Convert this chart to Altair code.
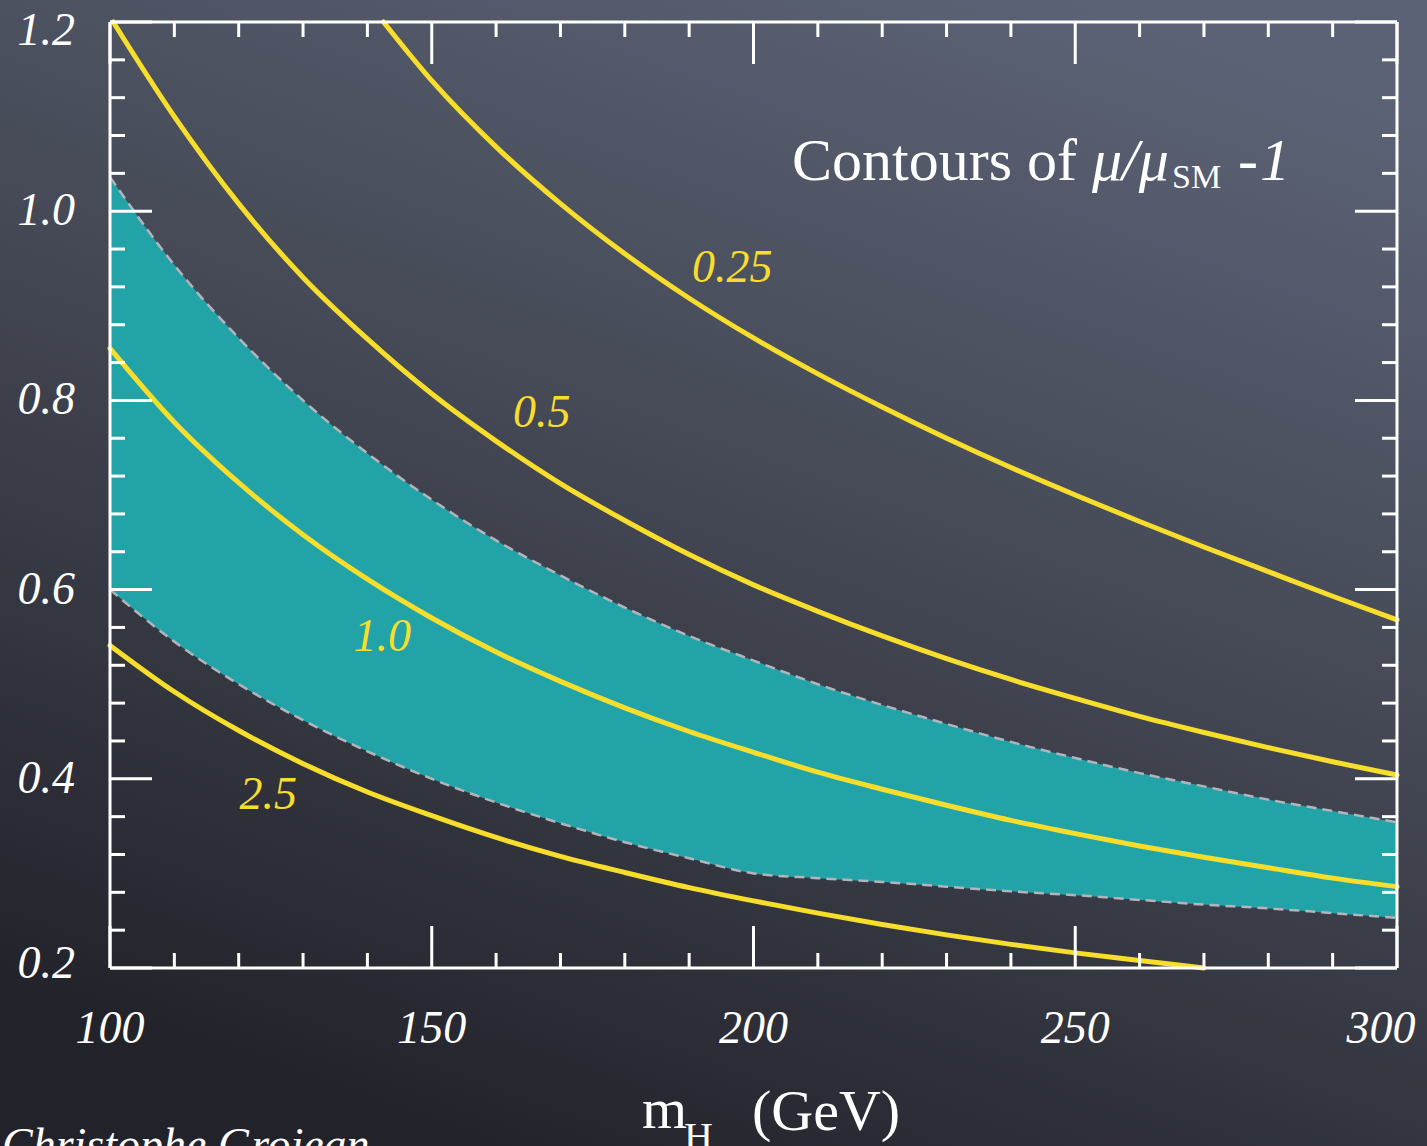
import altair as alt
import pandas as pd

# ---------------- data ----------------
x_grid = [100, 110, 120, 130, 140, 150, 160, 170, 180, 190, 200,
          210, 220, 230, 240, 250, 260, 270, 280, 290, 300]
band_upper = [1.036, 0.943, 0.866, 0.800, 0.744, 0.695, 0.652, 0.615, 0.581, 0.551, 0.525,
              0.500, 0.478, 0.458, 0.439, 0.422, 0.406, 0.392, 0.378, 0.366, 0.354]
band_lower = [0.600, 0.545, 0.500, 0.462, 0.429, 0.400, 0.375, 0.353, 0.333, 0.316, 0.300,
              0.295, 0.291, 0.286, 0.281, 0.277, 0.272, 0.267, 0.263, 0.258, 0.253]

c025_x = [142.5, 150, 160, 170, 180, 190, 200, 210, 220, 230, 240, 250, 260, 270, 280, 290, 300]
c025_y = [1.2, 1.138, 1.068, 1.008, 0.955, 0.908, 0.866, 0.828, 0.793, 0.760, 0.729,
          0.700, 0.672, 0.645, 0.619, 0.593, 0.568]
c05_x = [100.5, 110, 120, 130, 140, 150, 160, 170, 180, 190, 200,
         210, 220, 230, 240, 250, 260, 270, 280, 290, 300]
c05_y = [1.2, 1.10, 1.008, 0.930, 0.865, 0.807, 0.757, 0.712, 0.673, 0.637, 0.605,
         0.577, 0.551, 0.527, 0.505, 0.485, 0.466, 0.449, 0.433, 0.418, 0.404]
c10_x = x_grid
c10_y = [0.855, 0.777, 0.713, 0.658, 0.611, 0.570, 0.534, 0.503, 0.475, 0.450, 0.428,
         0.407, 0.389, 0.372, 0.356, 0.342, 0.329, 0.317, 0.306, 0.295, 0.286]
c25_x = [100, 110, 120, 130, 140, 150, 160, 170, 180, 190, 200, 210, 220, 230, 240, 250, 260, 270]
c25_y = [0.541, 0.492, 0.451, 0.416, 0.386, 0.361, 0.338, 0.318, 0.301, 0.285, 0.271,
         0.258, 0.246, 0.235, 0.225, 0.216, 0.208, 0.200]

contour_labels = ["0.25", "0.5", "1.0", "2.5"]
contour_label_x = [196.7, 167.1, 142.3, 124.6]
contour_label_y = [0.940, 0.787, 0.550, 0.383]

x_major = [100, 150, 200, 250, 300]
x_major_labels = ["100", "150", "200", "250", "300"]
x_minor = [110, 120, 130, 140, 160, 170, 180, 190, 210, 220, 230, 240, 260, 270, 280, 290]
y_major = [0.2, 0.4, 0.6, 0.8, 1.0, 1.2]
y_major_labels = ["0.2", "0.4", "0.6", "0.8", "1.0", "1.2"]
y_minor = [0.24, 0.28, 0.32, 0.36, 0.44, 0.48, 0.52, 0.56, 0.64, 0.68, 0.72, 0.76,
           0.84, 0.88, 0.92, 0.96, 1.04, 1.08, 1.12, 1.16]

# ---------------- style ----------------
W, H = 1287, 946
YELLOW = "#f7dd2c"
TEAL = "#22a3a7"
SERIF = "Liberation Serif"

xscale = alt.Scale(domain=[100, 300], nice=False, zero=False)
yscale = alt.Scale(domain=[0.2, 1.2], nice=False, zero=False)

one = pd.DataFrame({"a": [0]})

# background gradient (chalkboard)
bg = alt.Chart(one).mark_rect(
    fill=alt.LinearGradient(
        gradient="linear",
        stops=[alt.GradientStop(offset=0, color="#5b6275"),
               alt.GradientStop(offset=0.45, color="#444854"),
               alt.GradientStop(offset=1, color="#22222a")],
        x1=0.75, y1=0, x2=0.3, y2=1),
).encode(x=alt.value(-110), x2=alt.value(1317), y=alt.value(-22), y2=alt.value(1124))

band_df = pd.DataFrame({"x": x_grid, "upper": band_upper, "lower": band_lower})

band = alt.Chart(band_df).mark_area(color=TEAL, opacity=1, interpolate="monotone").encode(
    x=alt.X("x:Q", scale=xscale, axis=None),
    y=alt.Y("upper:Q", scale=yscale, axis=None),
    y2="lower:Q",
)

edge_style = dict(color="#b2b5bc", strokeWidth=2.5, strokeDash=[10, 6], interpolate="monotone")
edge_up = alt.Chart(band_df).mark_line(**edge_style).encode(
    x=alt.X("x:Q", scale=xscale, axis=None), y=alt.Y("upper:Q", scale=yscale, axis=None))
edge_lo = alt.Chart(band_df).mark_line(**edge_style).encode(
    x=alt.X("x:Q", scale=xscale, axis=None), y=alt.Y("lower:Q", scale=yscale, axis=None))

rows = []
for name, xs, ys in [("0.25", c025_x, c025_y), ("0.5", c05_x, c05_y),
                     ("1.0", c10_x, c10_y), ("2.5", c25_x, c25_y)]:
    for i, (a, b) in enumerate(zip(xs, ys)):
        rows.append({"series": name, "x": a, "y": b, "i": i})
cont_df = pd.DataFrame(rows)

contours = alt.Chart(cont_df).mark_line(color=YELLOW, strokeWidth=5, interpolate="monotone",
                                        strokeCap="round").encode(
    x=alt.X("x:Q", scale=xscale, axis=None),
    y=alt.Y("y:Q", scale=yscale, axis=None),
    detail="series:N", order="i:Q")

lab_df = pd.DataFrame({"t": contour_labels, "x": contour_label_x, "y": contour_label_y})
labels = alt.Chart(lab_df).mark_text(font=SERIF, fontStyle="italic", fontSize=46, color=YELLOW,
                                     align="center", baseline="middle").encode(
    x=alt.X("x:Q", scale=xscale, axis=None), y=alt.Y("y:Q", scale=yscale, axis=None), text="t:N")

# tick labels (as text marks positioned by the scales)
lab_style = dict(font=SERIF, fontStyle="italic", fontSize=46, color="white")
xl_df = pd.DataFrame({"v": x_major, "t": x_major_labels})
xlab_main = alt.Chart(xl_df).transform_filter("datum.v < 300").mark_text(
    align="center", baseline="alphabetic", **lab_style
).encode(x=alt.X("v:Q", scale=xscale, axis=None), y=alt.value(H + 75), text="t:N")
xlab_last = alt.Chart(xl_df).transform_filter("datum.v == 300").mark_text(
    align="center", baseline="alphabetic", dx=-16, **lab_style
).encode(x=alt.X("v:Q", scale=xscale, axis=None), y=alt.value(H + 75), text="t:N")

yl_df = pd.DataFrame({"v": y_major, "t": y_major_labels})
def ylab(flt, dy):
    return alt.Chart(yl_df).transform_filter(flt).mark_text(
        align="right", baseline="middle", dy=dy, **lab_style
    ).encode(x=alt.value(-35), y=alt.Y("v:Q", scale=yscale, axis=None), text="t:N")

ylabs = [ylab("datum.v > 0.3 && datum.v < 1.1", 0),
         ylab("datum.v > 1.1", 9),
         ylab("datum.v < 0.3", -4)]

# ticks (inward, on all four sides)
def xticks(vals, length):
    base = alt.Chart(pd.DataFrame({"v": vals}))
    enc = dict(x=alt.X("v:Q", scale=xscale, axis=None))
    bot = base.mark_rule(color="white", strokeWidth=3).encode(y=alt.value(H), y2=alt.value(H - length), **enc)
    top = base.mark_rule(color="white", strokeWidth=3).encode(y=alt.value(0), y2=alt.value(length), **enc)
    return [bot, top]

def yticks(vals, length):
    base = alt.Chart(pd.DataFrame({"v": vals}))
    enc = dict(y=alt.Y("v:Q", scale=yscale, axis=None))
    left = base.mark_rule(color="white", strokeWidth=3).encode(x=alt.value(0), x2=alt.value(length), **enc)
    right = base.mark_rule(color="white", strokeWidth=3).encode(x=alt.value(W), x2=alt.value(W - length), **enc)
    return [left, right]

ticks = xticks(x_major, 42) + xticks(x_minor, 15) + yticks(y_major, 42) + yticks(y_minor, 15)

# frame
def frule(x, x2, y, y2):
    return alt.Chart(one).mark_rule(color="white", strokeWidth=3).encode(
        x=alt.value(x), x2=alt.value(x2), y=alt.value(y), y2=alt.value(y2))

frame = [frule(0, W, 0, 0), frule(0, W, H, H), frule(0, 0, 0, H), frule(W, W, 0, H)]

# annotation texts
def txt(s, x, y, size, style="normal", color="white", font=SERIF):
    return alt.Chart(one).mark_text(text=s, font=font, fontSize=size, fontStyle=style, color=color,
                                    align="left", baseline="alphabetic").encode(
        x=alt.value(x), y=alt.value(y))

annots = [
    txt("Contours of", 682, 158, 60),
    txt("\u03bc/\u03bc", 982, 158, 60, "italic"),
    txt("SM", 1062, 166, 34),
    txt("-", 1128, 158, 60),
    txt("1", 1150, 158, 60, "italic"),
    txt("m", 532, 1106, 58),
    txt("H", 574, 1128, 40),
    txt("(GeV)", 642, 1108, 58),
    txt("Christophe Grojean", -108, 1138, 46, "italic"),
]

chart = alt.layer(bg, band, edge_up, edge_lo, contours, labels, *ticks, *frame,
                  xlab_main, xlab_last, *ylabs, *annots).properties(
    width=W, height=H,
    autosize=alt.AutoSizeParams(type="none"),
    padding={"left": 110, "top": 22, "right": 30, "bottom": 178},
    background="#3a3d47",
).configure_view(strokeWidth=0)

chart.save("out.html", embed_options={"renderer": "svg", "actions": False})
